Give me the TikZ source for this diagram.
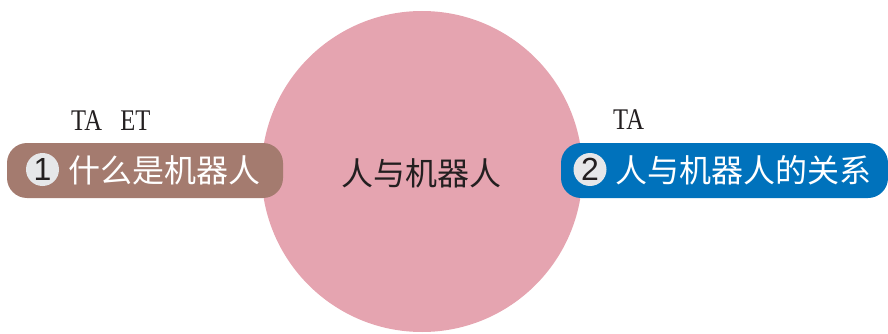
\documentclass[tikz,border=0pt]{standalone}
\usepackage{fontspec}
\setmainfont{Liberation Serif}
\newfontfamily\cjk{Noto Sans CJK SC}
\newfontfamily\numfont{Liberation Sans}
\definecolor{pinkc}{RGB}{229,164,176}
\definecolor{brownc}{RGB}{164,123,111}
\definecolor{bluec}{RGB}{0,114,188}
\definecolor{numgray}{RGB}{230,231,233}
\definecolor{darktext}{RGB}{35,31,32}
\tikzset{
  pill/.style={rectangle, rounded corners=20pt, inner sep=0pt, minimum height=55pt},
  numdot/.style={circle, fill=numgray, minimum size=33pt, inner sep=0pt, text=darktext, font=\numfont\fontsize{32}{34}\selectfont},
  cjklabel/.style={anchor=west, inner sep=0pt, text=white, font=\cjk\fontsize{32}{34}\selectfont},
  tag/.style={anchor=base west, inner sep=0pt, text=darktext, font=\fontsize{30}{32}\selectfont},
}
\begin{document}
\begin{tikzpicture}[x=1pt,y=-1pt]
\useasboundingbox (0,0) rectangle (888,334);
\node[circle, fill=pinkc, minimum size=321pt, inner sep=0pt] (hub) at (422,171.5) {};
\node[anchor=center, inner sep=0pt, text=darktext, font=\cjk\fontsize{32}{34}\selectfont] (hubtext) at (421.5,173) {人与机器人};
\node[pill, fill=brownc, minimum width=276pt] (p1) at (145,170.5) {};
\node[pill, fill=bluec, minimum width=327pt] (p2) at (724.5,170.5) {};
\node[numdot] (n1) at (42.5,169.5) {1};
\node[numdot] (n2) at (590,169.5) {2};
\node[cjklabel] (t1) at (68.5,170) {什么是机器人};
\node[cjklabel] (t2) at (615.5,170) {人与机器人的关系};
\node[tag] (tag1) at (71,130) {\scalebox{0.82}[1]{TA\hspace{0.75em}ET}};
\node[tag] (tag2) at (613,129) {\scalebox{0.82}[1]{TA}};
\end{tikzpicture}
\end{document}
